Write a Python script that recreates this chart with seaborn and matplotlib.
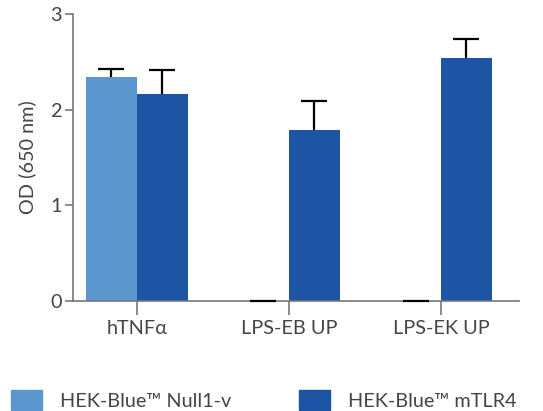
import matplotlib
matplotlib.use('Agg')
import matplotlib.pyplot as plt
import pandas as pd
import seaborn as sns

categories = ['hTNFα', 'LPS-EB UP', 'LPS-EK UP']
cell_lines = ['HEK-Blue™ Null1-v', 'HEK-Blue™ mTLR4']
null_od = [2.34, 0.0, 0.0]
null_err = [0.08, 0.0, 0.0]
mtlr4_od = [2.16, 1.79, 2.54]
mtlr4_err = [0.25, 0.30, 0.20]
colors = ['#5b96cf', '#1d55a4']

df = pd.DataFrame({
    'stimulus': categories * 2,
    'line': [cell_lines[0]] * 3 + [cell_lines[1]] * 3,
    'od': null_od + mtlr4_od,
    'err': null_err + mtlr4_err,
})

sns.set_style('ticks')
plt.rcParams['font.family'] = ['Lato', 'DejaVu Sans']
fs = 14.3
txt = '#444444'

fig = plt.figure(figsize=(5.43, 4.11), dpi=100)
ax = fig.add_axes([0.1344, 0.2676, 0.8214, 0.6984])

sns.barplot(data=df, x='stimulus', y='od', hue='line', hue_order=cell_lines,
            palette=colors, width=0.67, errorbar=None, saturation=1,
            linewidth=0, ax=ax, legend=False)

# upper error bars only, drawn at the bar centres
for bars, line in zip(ax.containers, cell_lines):
    sub = df[df['line'] == line].reset_index(drop=True)
    for b, (od, err) in zip(bars, zip(sub['od'], sub['err'])):
        xc = b.get_x() + b.get_width() / 2
        half = b.get_width() * 0.255
        top = od + err
        ax.vlines(xc, od, top, color='black', lw=1.6, zorder=5, clip_on=False)
        ax.hlines(top, xc - half, xc + half, color='black', lw=1.6, zorder=5,
                  clip_on=False)

ax.set_ylim(0, 3)
ax.set_xlim(-0.42, 2.513)
ax.set_yticks([0, 1, 2, 3])
ax.set_xlabel('')
ax.set_ylabel('OD (650 nm)', fontsize=fs, color=txt, labelpad=10)
for s in ['top', 'right']:
    ax.spines[s].set_visible(False)
for s in ['left', 'bottom']:
    ax.spines[s].set_color('#777777')
    ax.spines[s].set_linewidth(1.2)
ax.tick_params(axis='y', length=6, width=1.2, color='#777777', labelsize=fs,
               labelcolor=txt, pad=2)
ax.tick_params(axis='x', length=10, width=1.2, color='#777777', labelsize=fs,
               labelcolor=txt, pad=4)

handles = [plt.Rectangle((0, 0), 1, 1, color=c) for c in colors]
leg = fig.legend(handles, cell_lines, loc='lower left',
                 bbox_to_anchor=(11 / 543, 1 / 411), borderaxespad=0,
                 borderpad=0, ncol=2, frameon=False, handlelength=1.55,
                 handleheight=1.2, handletextpad=0.9, columnspacing=3.45,
                 fontsize=fs)
for t in leg.get_texts():
    t.set_color(txt)

fig.savefig('out.png', dpi=100)
